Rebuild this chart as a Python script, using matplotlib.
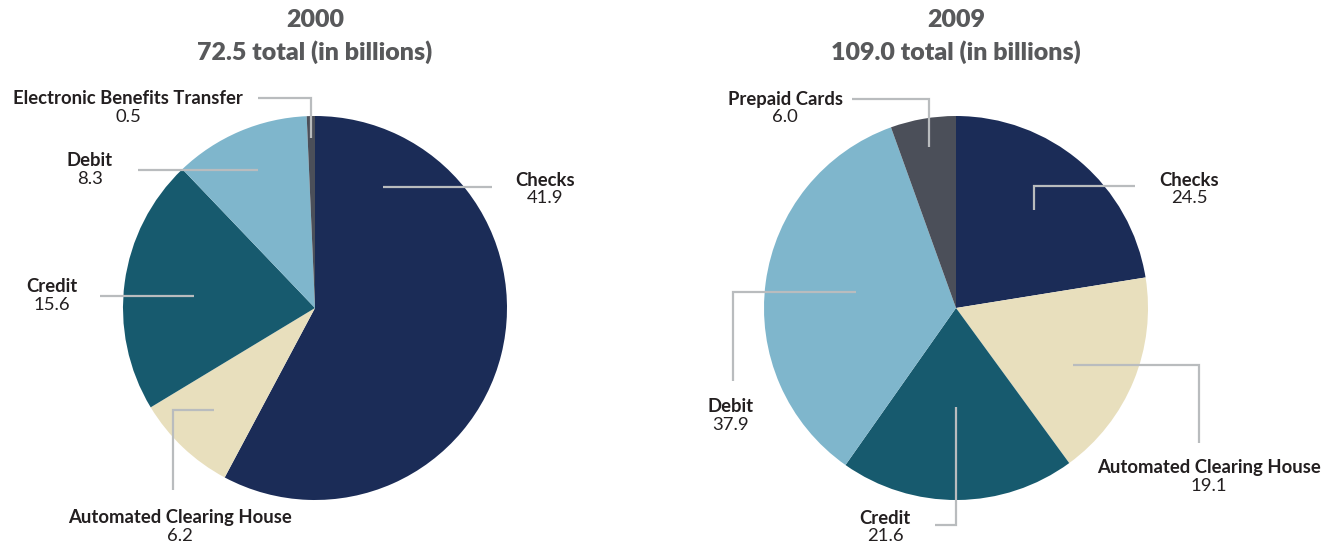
import matplotlib
matplotlib.use("Agg")
import matplotlib.pyplot as plt

categories_2000 = ["Checks", "Automated Clearing House", "Credit", "Debit", "Electronic Benefits Transfer"]
values_2000 = [41.9, 6.2, 15.6, 8.3, 0.5]
categories_2009 = ["Checks", "Automated Clearing House", "Credit", "Debit", "Prepaid Cards"]
values_2009 = [24.5, 19.1, 21.6, 37.9, 6.0]
titles = ["2000", "2009"]
totals = ["72.5 total (in billions)", "109.0 total (in billions)"]

colors = ["#1b2c57", "#e8dfbd", "#175a6e", "#7fb6cc", "#4b4f59"]
LINE = "#b9bcbe"
TXT = "#231f20"
W, H = 1340, 548

plt.rcParams['font.family'] = ['Lato', 'DejaVu Sans']
fig = plt.figure(figsize=(W / 100, H / 100), dpi=100)
ax = fig.add_axes([0, 0, 1, 1])

def Y(y):
    return H - y

R = 192
centers = [(315, 308), (956, 308)]
for (cx, cy), vals in zip(centers, [values_2000, values_2009]):
    ax.pie(vals, colors=colors, startangle=90, counterclock=False,
           center=(cx, Y(cy)), radius=R, frame=True,
           wedgeprops=dict(linewidth=0))
ax.set_xlim(0, W)
ax.set_ylim(0, H)
ax.set_aspect('equal')
ax.axis('off')

for (cx, cy), t, tot in zip(centers, titles, totals):
    ax.text(cx, Y(20), t, ha='center', va='center', fontsize=18, fontweight='heavy', color='#58595b')
    ax.text(cx, Y(52), tot, ha='center', va='center', fontsize=18, fontweight='heavy', color='#58595b')

def line(pts):
    xs = [p[0] for p in pts]
    ys = [Y(p[1]) for p in pts]
    ax.plot(xs, ys, color=LINE, lw=1.6, solid_capstyle='butt', solid_joinstyle='miter', zorder=5)

def label(x, y, name, val):
    ax.text(x, Y(y), name, ha='center', va='center', fontsize=13.3, fontweight='bold', color=TXT)
    ax.text(x, Y(y + 18), f"{val:.1f}", ha='center', va='center', fontsize=13.3, color=TXT)

# 2000 labels
line([(258, 98), (311, 98), (311, 138)])
label(128, 99, categories_2000[4], values_2000[4])
line([(138, 170), (258, 170)])
label(90, 161, categories_2000[3], values_2000[3])
line([(100, 296), (194, 296)])
label(52, 287, categories_2000[2], values_2000[2])
line([(173, 490), (173, 410), (214, 410)])
label(180, 518, categories_2000[1], values_2000[1])
line([(383, 187), (492, 187)])
label(545, 180, categories_2000[0], values_2000[0])

# 2009 labels
line([(852, 99), (929, 99), (929, 147)])
label(785, 99, categories_2009[4], values_2009[4])
line([(1034, 210), (1034, 186), (1135, 186)])
label(1189, 180, categories_2009[0], values_2009[0])
line([(856, 292), (733, 292), (733, 381)])
label(731, 407, categories_2009[3], values_2009[3])
line([(1073, 365), (1199, 365), (1199, 443)])
label(1209, 468, categories_2009[1], values_2009[1])
line([(956, 407), (956, 525), (935, 525)])
label(885, 518, categories_2009[2], values_2009[2])

fig.savefig("out.png", dpi=100)
